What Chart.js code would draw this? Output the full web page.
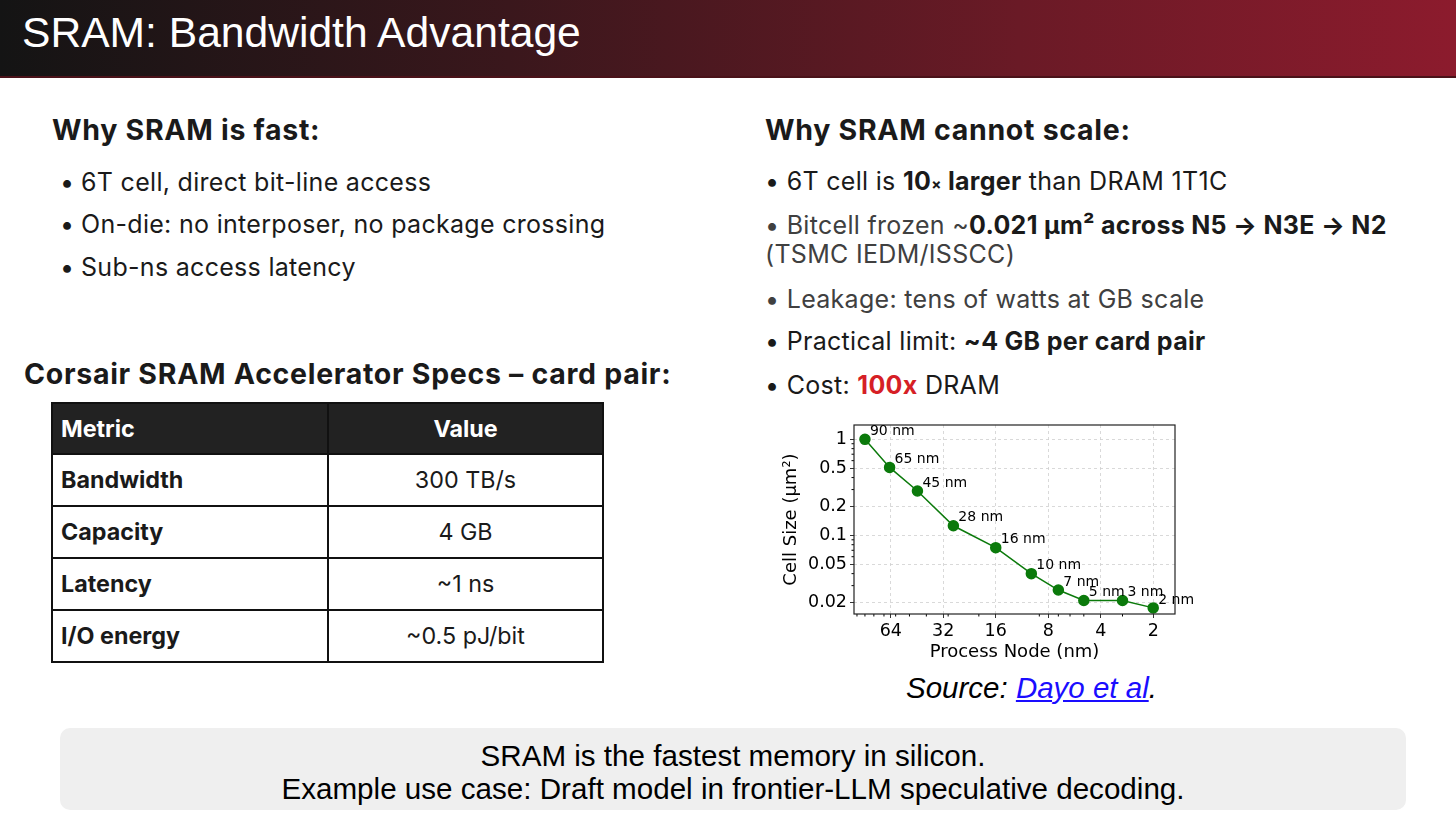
<!DOCTYPE html>
<html>
<head>
<meta charset="utf-8">
<script src="https://cdn.jsdelivr.net/npm/chart.js@4.4.1/dist/chart.umd.min.js"></script>
<style>
  html, body { margin: 0; padding: 0; background: #fff; }
  body { width: 1456px; height: 822px; position: relative; overflow: hidden; font-family: Inter, "Noto Sans", sans-serif; color: #1a1a1a; }
  .abs { position: absolute; line-height: 1; white-space: nowrap; }
  #header { position: absolute; left: 0; top: 0; width: 1456px; height: 76px;
    background: linear-gradient(to right, #141414 0%, #3a171c 35%, #6a1a26 70%, #8c1b2d 100%);
    border-bottom: 2px solid #4a1219; }
  #title { left: 22px; top: 11px; font-family: "Liberation Sans", Arial, sans-serif; font-size: 42.6px; color: #fff; }
  .h2 { font-weight: 700; font-size: 28.5px; letter-spacing: 0.7px; color: #1a1a1a; }
  .li { font-size: 25px; letter-spacing: 0.3px; color: #1a1a1a; }
  .grey { color: #404040; }
  table { position: absolute; left: 51px; top: 402px; border-collapse: collapse; font-size: 23.3px; }
  td, th { border: 2px solid #111; padding: 0 8px; line-height: 1; }
  th { background: #222; color: #fff; font-weight: 700; height: 49px; }
  td { height: 50px; }
  td.m { font-weight: 700; text-align: left; width: 258px; }
  td.v { text-align: center; width: 257px; }
  #chartBox { position: absolute; left: 770px; top: 410px; width: 430px; height: 260px; }
  #source { left: 906px; top: 672.5px; font-family: "Liberation Sans", Arial, sans-serif; font-style: italic; font-size: 29.5px; color: #000; }
  #source a { color: #1a0dff; text-decoration: underline; }
  #box { position: absolute; left: 60px; top: 728px; width: 1346px; height: 82px; background: #efefef; border-radius: 10px;
    font-family: "Liberation Sans", Arial, sans-serif; font-size: 29.6px; color: #000; text-align: center; }
  #box div { position: absolute; left: 0; width: 100%; line-height: 1; }
</style>
</head>
<body>
<div id="header"><div id="title" class="abs">SRAM: Bandwidth Advantage</div></div>

<div class="abs h2" style="left:52px; top:115.5px;">Why SRAM is fast:</div>
<div class="abs li" style="left:60px; top:169.5px;">•</div>
<div class="abs li" style="left:81px; top:169.5px;">6T cell, direct bit-line access</div>
<div class="abs li" style="left:60px; top:212px;">•</div>
<div class="abs li" style="left:81px; top:212px;">On-die: no interposer, no package crossing</div>
<div class="abs li" style="left:60px; top:254.5px;">•</div>
<div class="abs li" style="left:81px; top:254.5px;">Sub-ns access latency</div>

<div class="abs h2" style="left:24px; top:359.5px;">Corsair SRAM Accelerator Specs – card pair:</div>

<table>
  <tr><th style="text-align:left;">Metric</th><th>Value</th></tr>
  <tr><td class="m">Bandwidth</td><td class="v">300 TB/s</td></tr>
  <tr><td class="m">Capacity</td><td class="v">4 GB</td></tr>
  <tr><td class="m">Latency</td><td class="v">~1 ns</td></tr>
  <tr><td class="m">I/O energy</td><td class="v">~0.5 pJ/bit</td></tr>
</table>

<div class="abs h2" style="left:765px; top:115.5px;">Why SRAM cannot scale:</div>
<div class="abs li" style="left:765px; top:168.5px;">• 6T cell is <b>10<span style="font-size:0.6em">×</span> larger</b> than DRAM 1T1C</div>
<div class="abs li grey" style="left:765px; top:212.5px;">• Bitcell frozen ~<b style="color:#1a1a1a">0.021 µm² across N5 → N3E → N2</b></div>
<div class="abs li grey" style="left:765px; top:241.5px;">(TSMC IEDM/ISSCC)</div>
<div class="abs li grey" style="left:765px; top:286.5px;">• Leakage: tens of watts at GB scale</div>
<div class="abs li" style="left:765px; top:329px;">• Practical limit: <b>~4 GB per card pair</b></div>
<div class="abs li" style="left:765px; top:373px;">• Cost: <b style="color:#d61f26">100x</b> DRAM</div>

<div id="chartBox"><canvas id="c"></canvas></div>

<div id="source" class="abs">Source: <a>Dayo et al</a>.</div>

<div id="box">
  <div style="top:13px;">SRAM is the fastest memory in silicon.</div>
  <div style="top:46px;">Example use case: Draft model in frontier-LLM speculative decoding.</div>
</div>

<script>
// ---- data ----
const processNodes = [90, 65, 45, 28, 16, 10, 7, 5, 3, 2];
const cellSizes = [1.0, 0.51, 0.29, 0.126, 0.0745, 0.040, 0.027, 0.021, 0.021, 0.0176];
const pointLabels = ["90 nm", "65 nm", "45 nm", "28 nm", "16 nm", "10 nm", "7 nm", "5 nm", "3 nm", "2 nm"];
const xTickValues = [64, 32, 16, 8, 4, 2];
const yTickValues = [1, 0.5, 0.2, 0.1, 0.05, 0.02];
const xMinorValues = [100, 90, 80, 70, 60, 50, 40, 30, 20, 9, 7, 6, 5, 3];
const yMinorValues = [0.9, 0.8, 0.7, 0.6, 0.4, 0.3, 0.09, 0.08, 0.07, 0.06, 0.04, 0.03];

const FONT = "'DejaVu Sans', sans-serif";

const framePlugin = {
  id: 'frame',
  afterDraw(chart) {
    const {ctx, chartArea: a, scales} = chart;
    ctx.save();
    ctx.strokeStyle = '#000';
    ctx.lineWidth = 1;
    ctx.beginPath();
    xMinorValues.forEach(v => {
      const px = scales.x.getPixelForValue(v);
      if (px >= a.left && px <= a.right) { ctx.moveTo(px, a.bottom); ctx.lineTo(px, a.bottom + 2.5); }
    });
    yMinorValues.forEach(v => {
      const py = scales.y.getPixelForValue(v);
      if (py >= a.top && py <= a.bottom) { ctx.moveTo(a.left, py); ctx.lineTo(a.left - 2.5, py); }
    });
    ctx.stroke();
    ctx.lineWidth = 1.2;
    ctx.strokeStyle = '#222';
    ctx.strokeRect(a.left, a.top, a.right - a.left, a.bottom - a.top);
    const meta = chart.getDatasetMeta(0);
    ctx.fillStyle = '#000';
    ctx.font = "14px " + FONT;
    ctx.textAlign = 'left';
    ctx.textBaseline = 'middle';
    meta.data.forEach((el, i) => {
      ctx.fillText(pointLabels[i], el.x + 5, el.y - 8);
    });
    ctx.restore();
  }
};

new Chart(document.getElementById('c'), {
  type: 'scatter',
  data: {
    datasets: [{
      data: processNodes.map((n, i) => ({x: n, y: cellSizes[i]})),
      showLine: true,
      borderColor: '#0b7a0b',
      backgroundColor: '#0b7a0b',
      borderWidth: 1.5,
      pointRadius: 5,
      pointHoverRadius: 5,
      clip: false
    }]
  },
  options: {
    responsive: true,
    maintainAspectRatio: false,
    animation: false,
    events: [],
    layout: { padding: { top: 15, right: 25, left: 0, bottom: 0 } },
    plugins: { legend: { display: false }, tooltip: { enabled: false } },
    scales: {
      x: {
        type: 'logarithmic',
        reverse: true,
        min: 1.5,
        max: 104,
        afterBuildTicks: s => { s.ticks = xTickValues.map(v => ({value: v})); },
        afterFit: s => { s.height = 56; },
        ticks: { callback: v => String(v), color: '#000', font: { family: FONT, size: 17.5 }, padding: 3, maxRotation: 0, autoSkip: false },
        grid: { color: '#d0d0d0', tickColor: '#000', tickLength: 4, lineWidth: 0.8 },
        border: { display: false, dash: [3, 3] },
        title: { display: true, text: 'Process Node (nm)', color: '#000', font: { family: FONT, size: 18 }, padding: { top: 0, bottom: 7 } }
      },
      y: {
        type: 'logarithmic',
        min: 0.0152,
        max: 1.41,
        afterBuildTicks: s => { s.ticks = yTickValues.map(v => ({value: v})); },
        afterFit: s => { s.width = 84; },
        ticks: { callback: v => String(v), color: '#000', font: { family: FONT, size: 17.5 }, padding: 3, autoSkip: false },
        grid: { color: '#d0d0d0', tickColor: '#000', tickLength: 4, lineWidth: 0.8 },
        border: { display: false, dash: [3, 3] },
        title: { display: true, text: 'Cell Size (μm²)', color: '#000', font: { family: FONT, size: 18 }, padding: { top: 11, bottom: 0 } }
      }
    }
  },
  plugins: [framePlugin]
});
</script>
</body>
</html>
